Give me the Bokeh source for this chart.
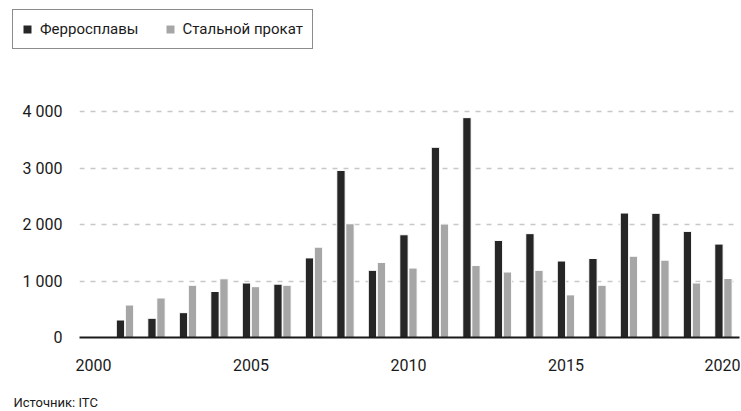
from bokeh.plotting import figure
from bokeh.layouts import column
from bokeh.models import ColumnDataSource, FixedTicker, Legend, LegendItem, Label, Range1d
from bokeh.transform import dodge
from bokeh.embed import file_html
from bokeh.resources import INLINE

years = [2001, 2002, 2003, 2004, 2005, 2006, 2007, 2008, 2009, 2010,
         2011, 2012, 2013, 2014, 2015, 2016, 2017, 2018, 2019, 2020]
ferroalloys = [310, 340, 440, 815, 965, 945, 1410, 2960, 1190, 1820,
               3370, 3895, 1720, 1840, 1355, 1400, 2205, 2200, 1880, 1655]
steel = [575, 700, 925, 1040, 900, 925, 1600, 2015, 1330, 1230,
         2010, 1275, 1160, 1190, 755, 925, 1440, 1370, 965, 1045]
series_names = ["Ферросплавы", "Стальной прокат"]
x_ticks = [2000, 2005, 2010, 2015, 2020]
y_ticks = [0, 1000, 2000, 3000, 4000]
y_tick_labels = ["0", "1 000", "2 000", "3 000", "4 000"]
source_note = "Источник: ITC"

FONT = "Roboto"
DARK = "#262626"
LIGHT = "#a6a6a6"
TXT = "#1a1a1a"
W = 740


def strip(height):
    f = figure(width=W, height=height, output_backend="svg", toolbar_location=None,
               x_range=Range1d(0, 1), y_range=Range1d(0, 1),
               x_axis_location=None, y_axis_location=None,
               min_border=0, min_border_left=0, min_border_right=0,
               min_border_top=0, min_border_bottom=0)
    f.grid.visible = False
    f.outline_line_color = None
    f.frame_align = False
    return f


# ---- legend strip
top = strip(60)
keys = ColumnDataSource(dict(x=[-5.0], top=[0.0]))
lg1 = top.vbar(x="x", top="top", width=0.1, source=keys, fill_color=DARK, line_color=None)
lg2 = top.vbar(x="x", top="top", width=0.1, source=keys, fill_color=LIGHT, line_color=None)
legend = Legend(items=[LegendItem(label=series_names[0], renderers=[lg1]),
                       LegendItem(label=series_names[1], renderers=[lg2])],
                location=(12, 11), orientation="horizontal",
                glyph_width=10, glyph_height=10, label_height=20,
                label_standoff=8, spacing=26, padding=9, margin=0,
                border_line_color=TXT, border_line_width=1.5,
                label_text_font=FONT, label_text_font_size="15px",
                label_text_color=TXT, background_fill_alpha=1)
top.add_layout(legend, "center")

# ---- main chart
src = ColumnDataSource(dict(year=years, ferro=ferroalloys, steel=steel))

p = figure(width=W, height=327, output_backend="svg", toolbar_location=None,
           x_range=Range1d(1999.556, 2020.51), y_range=Range1d(0, 4500),
           min_border_left=79, min_border_right=1, min_border_top=23,
           min_border_bottom=50)
p.outline_line_color = None
p.frame_align = False

r1 = p.vbar(x=dodge("year", -0.143), top="ferro", width=0.265, source=src,
            fill_color=DARK, line_color="white", line_width=1)
r2 = p.vbar(x=dodge("year", 0.143), top="steel", width=0.265, source=src,
            fill_color=LIGHT, line_color="white", line_width=1)

p.xaxis.ticker = FixedTicker(ticks=x_ticks)
p.xaxis.axis_line_color = TXT
p.xaxis.axis_line_width = 2
p.xaxis.major_tick_line_color = None
p.xaxis.minor_tick_line_color = None
p.xaxis.major_label_standoff = 15
p.xaxis.major_label_text_font = FONT
p.xaxis.major_label_text_font_size = "16px"
p.xaxis.major_label_text_color = TXT

p.yaxis.ticker = FixedTicker(ticks=y_ticks)
p.yaxis.major_label_overrides = {t: l for t, l in zip(y_ticks, y_tick_labels)}
p.yaxis.axis_line_color = None
p.yaxis.major_tick_line_color = None
p.yaxis.minor_tick_line_color = None
p.yaxis.major_label_standoff = 11
p.yaxis.major_label_text_font = FONT
p.yaxis.major_label_text_font_size = "16px"
p.yaxis.major_label_text_color = TXT

p.xgrid.grid_line_color = None
p.ygrid.ticker = FixedTicker(ticks=y_ticks[1:])
p.ygrid.grid_line_color = "#c8c8c8"
p.ygrid.grid_line_width = 1.5
p.ygrid.grid_line_dash = "5 6"

# ---- source strip
bottom = strip(24)
bottom.add_layout(Label(x=13, y=9, x_units="screen", y_units="screen",
                        text=source_note, text_font=FONT, text_font_size="13px",
                        text_baseline="middle", text_color=TXT))

layout = column(top, p, bottom, spacing=0)
open("out.html", "w").write(file_html(layout, INLINE))
